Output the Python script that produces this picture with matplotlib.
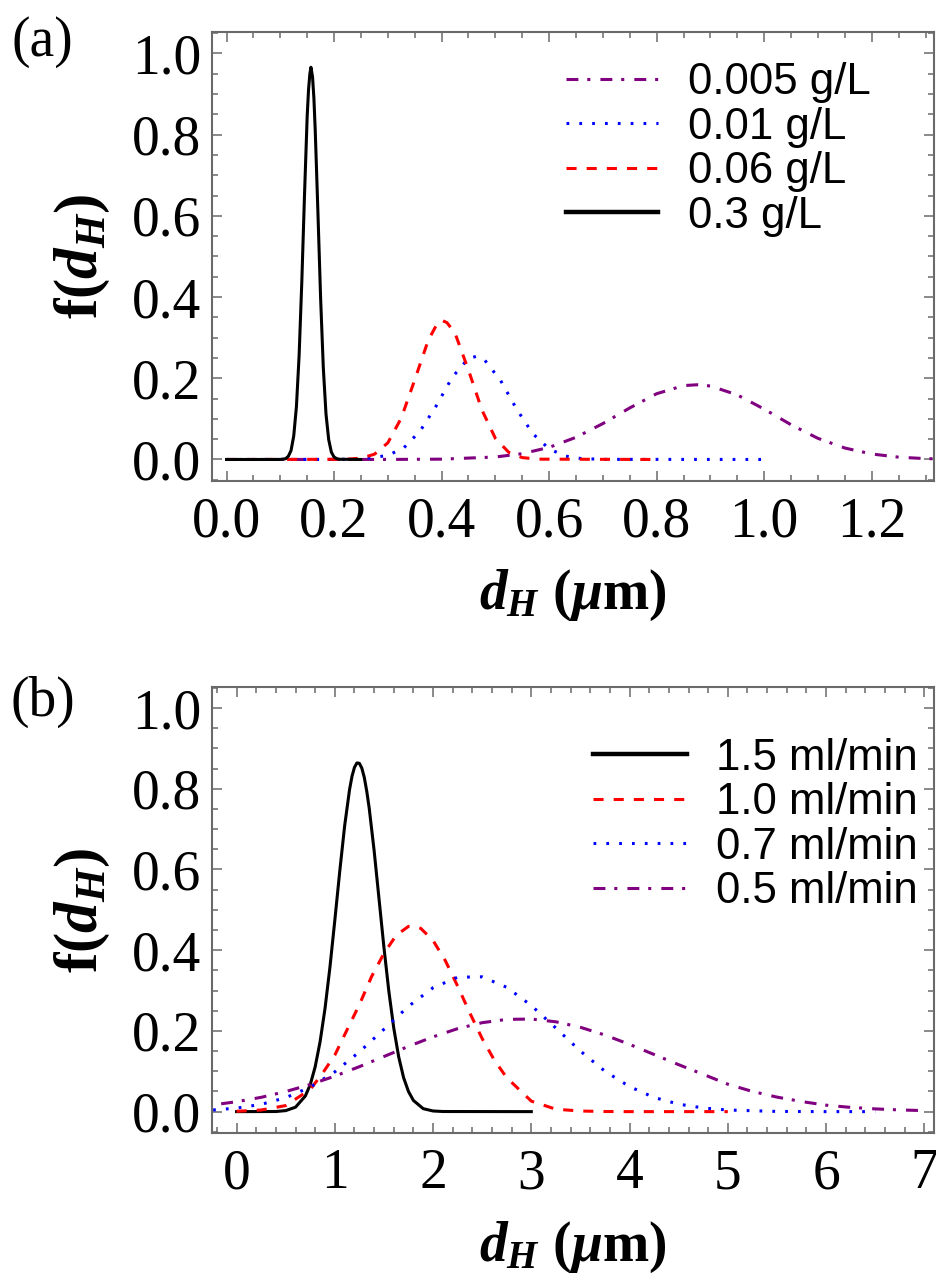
import matplotlib
matplotlib.use("Agg")
import matplotlib.pyplot as plt
from matplotlib.ticker import MultipleLocator

# ---- panel (a): concentration series ----
a_x_03 = [0.0, 0.10, 0.11, 0.115, 0.12, 0.125, 0.13, 0.135, 0.14, 0.145, 0.15, 0.1525,
          0.155, 0.157, 0.16, 0.1625, 0.165, 0.17, 0.175, 0.18, 0.185, 0.19, 0.195,
          0.20, 0.205, 0.21, 0.25]
a_y_03 = [0.0, 0.0, 0.002, 0.008, 0.022, 0.058, 0.13, 0.256, 0.437, 0.65, 0.845, 0.91,
          0.95, 0.966, 0.942, 0.89, 0.81, 0.608, 0.397, 0.226, 0.112, 0.049, 0.018,
          0.006, 0.002, 0.0005, 0.0]

a_x_006 = [0.0, 0.22, 0.25, 0.275, 0.30, 0.325, 0.35, 0.375, 0.39, 0.40, 0.41, 0.425,
           0.45, 0.475, 0.50, 0.525, 0.55, 0.58, 0.80]
a_y_006 = [0.0, 0.0004, 0.0032, 0.0129, 0.041, 0.102, 0.196, 0.293, 0.33, 0.343, 0.337,
           0.311, 0.220, 0.122, 0.052, 0.0175, 0.0046, 0.0008, 0.0]

a_x_001 = [0.0, 0.20, 0.25, 0.30, 0.33, 0.36, 0.39, 0.42, 0.45, 0.465, 0.48, 0.51, 0.54,
           0.57, 0.60, 0.63, 0.66, 0.70, 1.0]
a_y_001 = [0.0, 0.0002, 0.001, 0.0099, 0.029, 0.070, 0.132, 0.203, 0.249, 0.254, 0.245,
           0.194, 0.123, 0.063, 0.026, 0.0084, 0.0022, 0.0003, 0.0]

a_x_0005 = [0.0, 0.30, 0.40, 0.50, 0.55, 0.60, 0.65, 0.70, 0.75, 0.80, 0.85, 0.875, 0.90,
            0.95, 1.00, 1.05, 1.10, 1.15, 1.20, 1.25, 1.30, 1.35]
a_y_0005 = [0.0, 0.0001, 0.0008, 0.0061, 0.0143, 0.0298, 0.0546, 0.0885, 0.127, 0.162,
            0.182, 0.184, 0.181, 0.159, 0.124, 0.0855, 0.052, 0.0282, 0.0135, 0.0057,
            0.0021, 0.0007]

# ---- panel (b): flow-rate series ----
b_x_15 = [0.0, 0.4, 0.5, 0.6, 0.7, 0.75, 0.8, 0.85, 0.9, 0.95, 1.0, 1.05, 1.1, 1.15,
          1.175, 1.2, 1.225, 1.25, 1.275, 1.3, 1.325, 1.35, 1.4, 1.45, 1.5, 1.55, 1.6,
          1.65, 1.7, 1.75, 1.8, 1.9, 2.0, 2.1, 3.0]
b_y_15 = [0.0, 0.0003, 0.0025, 0.011, 0.0387, 0.067, 0.111, 0.173, 0.255, 0.357, 0.474,
          0.595, 0.708, 0.798, 0.831, 0.853, 0.864, 0.863, 0.851, 0.828, 0.794, 0.752,
          0.647, 0.527, 0.407, 0.298, 0.207, 0.136, 0.0843, 0.0497, 0.0277, 0.0073,
          0.0016, 0.0003, 0.0]

b_x_10 = [0.0, 0.25, 0.5, 0.75, 0.875, 1.0, 1.125, 1.25, 1.375, 1.5, 1.625, 1.75, 1.8,
          1.875, 2.0, 2.125, 2.25, 2.375, 2.5, 2.625, 2.75, 3.0, 3.25, 3.5, 3.75, 4.0,
          5.0]
b_y_10 = [0.0008, 0.004, 0.015, 0.055, 0.095, 0.140, 0.203, 0.265, 0.335, 0.392, 0.437,
          0.459, 0.46, 0.454, 0.424, 0.374, 0.311, 0.244, 0.181, 0.127, 0.084, 0.026,
          0.006, 0.0015, 0.0003, 0.0, 0.0]

b_x_07 = [-0.5, -0.25, 0.0, 0.25, 0.5, 0.75, 1.0, 1.25, 1.5, 1.75, 2.0, 2.25, 2.5, 2.75,
          3.0, 3.25, 3.5, 3.75, 4.0, 4.25, 4.5, 4.75, 5.0, 5.5, 6.0, 6.5]
b_y_07 = [0.0016, 0.0039, 0.0087, 0.018, 0.0345, 0.0607, 0.0985, 0.148, 0.204, 0.261,
          0.307, 0.333, 0.334, 0.308, 0.263, 0.207, 0.150, 0.100, 0.062, 0.035, 0.0185,
          0.009, 0.004, 0.0005, 0.0, 0.0]

b_x_05 = [-0.5, -0.25, 0.0, 0.25, 0.5, 0.75, 1.0, 1.25, 1.5, 1.75, 2.0, 2.25, 2.5, 2.75,
          3.0, 3.25, 3.5, 3.75, 4.0, 4.25, 4.5, 4.75, 5.0, 5.25, 5.5, 5.75, 6.0, 6.25,
          6.5, 6.75, 7.0]
b_y_05 = [0.0106, 0.0164, 0.0245, 0.0354, 0.0497, 0.0672, 0.0879, 0.1114, 0.1365, 0.1618,
          0.1853, 0.2056, 0.2204, 0.2286, 0.2294, 0.2226, 0.209, 0.1897, 0.1666, 0.1415,
          0.1163, 0.0924, 0.068, 0.050, 0.036, 0.025, 0.016, 0.0105, 0.0068, 0.0042,
          0.0025]

a_labels = ["0.005 g/L", "0.01 g/L", "0.06 g/L", "0.3 g/L"]
b_labels = ["1.5 ml/min", "1.0 ml/min", "0.7 ml/min", "0.5 ml/min"]

PURPLE = "#800080"
LW = 2.2
DASHED = (3.3, 3.3)
DOTTED = (0.9, 3.3)
DASHDOT = (3.9, 2.9, 1.0, 3.3)

plt.rcParams["font.family"] = ["Liberation Serif", "DejaVu Serif"]
plt.rcParams["mathtext.fontset"] = "custom"
plt.rcParams["mathtext.rm"] = "Liberation Serif:bold"
plt.rcParams["mathtext.it"] = "Liberation Serif:italic:bold"
plt.rcParams["mathtext.bf"] = "Liberation Serif:bold"

FRAME = "#6a6a6a"
LEG_FONT = {"family": "Liberation Sans", "size": 31.5}


def style_axes(ax, xmajor, xminor):
    for sp in ax.spines.values():
        sp.set_color(FRAME)
        sp.set_linewidth(1.5)
    ax.xaxis.set_major_locator(MultipleLocator(xmajor))
    ax.xaxis.set_minor_locator(MultipleLocator(xminor))
    ax.yaxis.set_major_locator(MultipleLocator(0.2))
    ax.yaxis.set_minor_locator(MultipleLocator(0.05))
    ax.tick_params(which="both", direction="in", top=True, right=True,
                   color=FRAME, width=1.1, labelsize=40)
    ax.tick_params(which="major", length=7)
    ax.tick_params(which="minor", length=4)
    ax.tick_params(axis="y", pad=8)
    ax.tick_params(axis="x", pad=11)
    ax.set_ylim(-0.053, 1.053)
    ax.set_ylabel(r"$\mathrm{f}(d_H)$", fontsize=44)
    ax.set_xlabel(r"$d_H\ (\mu\mathrm{m})$", fontsize=40, labelpad=14)
    ax.yaxis.set_label_coords(-0.138, 0.5)


fig = plt.figure(figsize=(9.36, 12.83), dpi=100)
ax1 = fig.add_axes([0.2265, 0.6251, 0.7715, 0.35])
ax2 = fig.add_axes([0.2265, 0.1169, 0.7715, 0.3479])

# panel (a)
ax1.plot(a_x_0005, a_y_0005, color=PURPLE, lw=LW, dashes=DASHDOT, label=a_labels[0])
ax1.plot(a_x_001, a_y_001, color="blue", lw=LW, dashes=DOTTED, label=a_labels[1])
ax1.plot(a_x_006, a_y_006, color="red", lw=LW, dashes=DASHED, label=a_labels[2])
ax1.plot(a_x_03, a_y_03, color="black", lw=LW, label=a_labels[3])
ax1.set_xlim(-0.027, 1.316)
style_axes(ax1, 0.2, 0.05)
ax1.xaxis.set_major_formatter(lambda v, p: f"{v:.1f}")
ax1.yaxis.set_major_formatter(lambda v, p: f"{v:.1f}")
leg1 = ax1.legend(loc="upper left", bbox_to_anchor=(0.49, 0.933), frameon=False,
                  prop=LEG_FONT, handlelength=2.1, handletextpad=0.7,
                  labelspacing=0.08, borderpad=0, borderaxespad=0)
leg1.legend_handles[3].set_linewidth(3.2)

# panel (b)
ax2.plot(b_x_15, b_y_15, color="black", lw=LW, label=b_labels[0])
ax2.plot(b_x_10, b_y_10, color="red", lw=LW, dashes=DASHED, label=b_labels[1])
ax2.plot(b_x_07, b_y_07, color="blue", lw=LW, dashes=DOTTED, label=b_labels[2])
ax2.plot(b_x_05, b_y_05, color=PURPLE, lw=LW, dashes=DASHDOT, label=b_labels[3])
ax2.set_xlim(-0.25, 7.1)
style_axes(ax2, 1, 0.2)
ax2.yaxis.set_major_formatter(lambda v, p: f"{v:.1f}")
leg2 = ax2.legend(loc="upper left", bbox_to_anchor=(0.527, 0.886), frameon=False,
                  prop=LEG_FONT, handlelength=2.15, handletextpad=0.66,
                  labelspacing=0.08, borderpad=0, borderaxespad=0)
leg2.legend_handles[0].set_linewidth(3.2)

fig.text(0.045, 0.967, "(a)", fontsize=40, ha="center", va="center")
fig.text(0.046, 0.453, "(b)", fontsize=40, ha="center", va="center")

fig.savefig("out.png", dpi=100)
